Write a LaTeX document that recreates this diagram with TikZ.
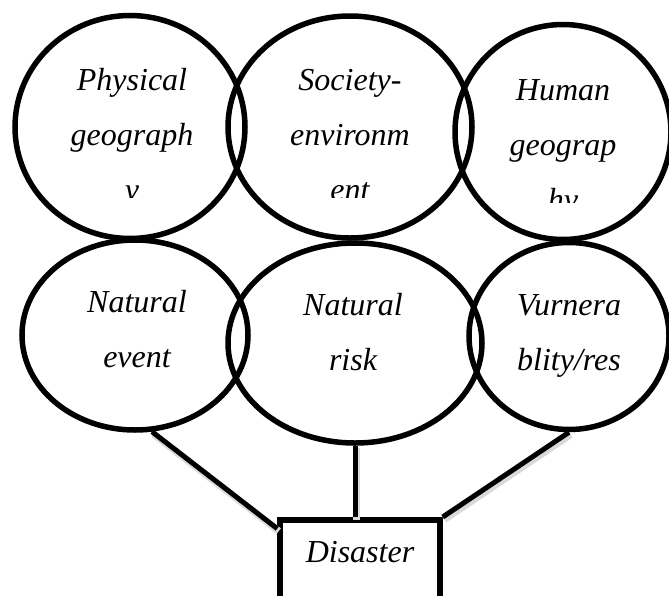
\documentclass[tikz,border=0pt]{standalone}
\usepackage{fontspec}
\setmainfont{Liberation Serif}
\usetikzlibrary{shapes.geometric}

\begin{document}
\begin{tikzpicture}[x=1pt, y=-1pt,
    bubble/.style={draw, ellipse, line width=5.5pt, inner sep=0pt},
    caption/.style={anchor=base, align=center, inner sep=0pt, font=\fontsize{32}{55}\selectfont\itshape},
    link/.style={line width=5pt, preaction={draw=black!15, line width=7pt, transform canvas={shift={(1.5pt,-2.5pt)}}}}]
  \useasboundingbox (0,0) rectangle (669,595);
  \clip (0,0) rectangle (669,595);
  % upper row
  \node[bubble, minimum width=230pt, minimum height=223pt] (phys) at (130,127) {};
  \node[bubble, minimum width=244pt, minimum height=222pt] (soc) at (350,127) {};
  \node[bubble, minimum width=216pt, minimum height=215pt] (hum) at (563,132) {};
  % captions cut off at the bottom (base = last line)
  \begin{scope}
    \clip (0,0) rectangle (669,197);
    \node[caption] (physlbl) at (132,200) {Physical\\geograph\\y};
    \node[caption] (soclbl) at (350,200) {Society-\\environm\\ent};
  \end{scope}
  \begin{scope}
    \clip (0,0) rectangle (669,202);
    \node[caption] (humlbl) at (563,210) {Human\\geograp\\hy};
  \end{scope}
  % lower row
  \node[bubble, minimum width=226pt, minimum height=190pt] (nevent) at (135,335) {};
  \node[bubble, minimum width=254pt, minimum height=200pt] (nrisk) at (355,343) {};
  \node[bubble, minimum width=200pt, minimum height=187pt] (vuln) at (569,336) {};
  \node[caption] (neventlbl) at (137,367) {Natural\\event};
  \node[caption] (nrisklbl) at (353,370) {Natural\\risk};
  \node[caption] (vulnlbl) at (569,370) {Vurnera\\blity/res};
  % result
  \node[draw, line width=5.5pt, anchor=north, minimum width=160pt, inner sep=0pt,
        text height=43pt, text depth=45pt, font=\fontsize{32}{55}\selectfont\itshape] (disaster) at (360,517) {Disaster};
  \draw[link] (nevent.-80) -- (disaster.157);
  \draw[link] (nrisk.south) -- (nrisk.south |- disaster.north);
  \draw[link] (vuln.south) -- (disaster.north east);
\end{tikzpicture}
\end{document}
